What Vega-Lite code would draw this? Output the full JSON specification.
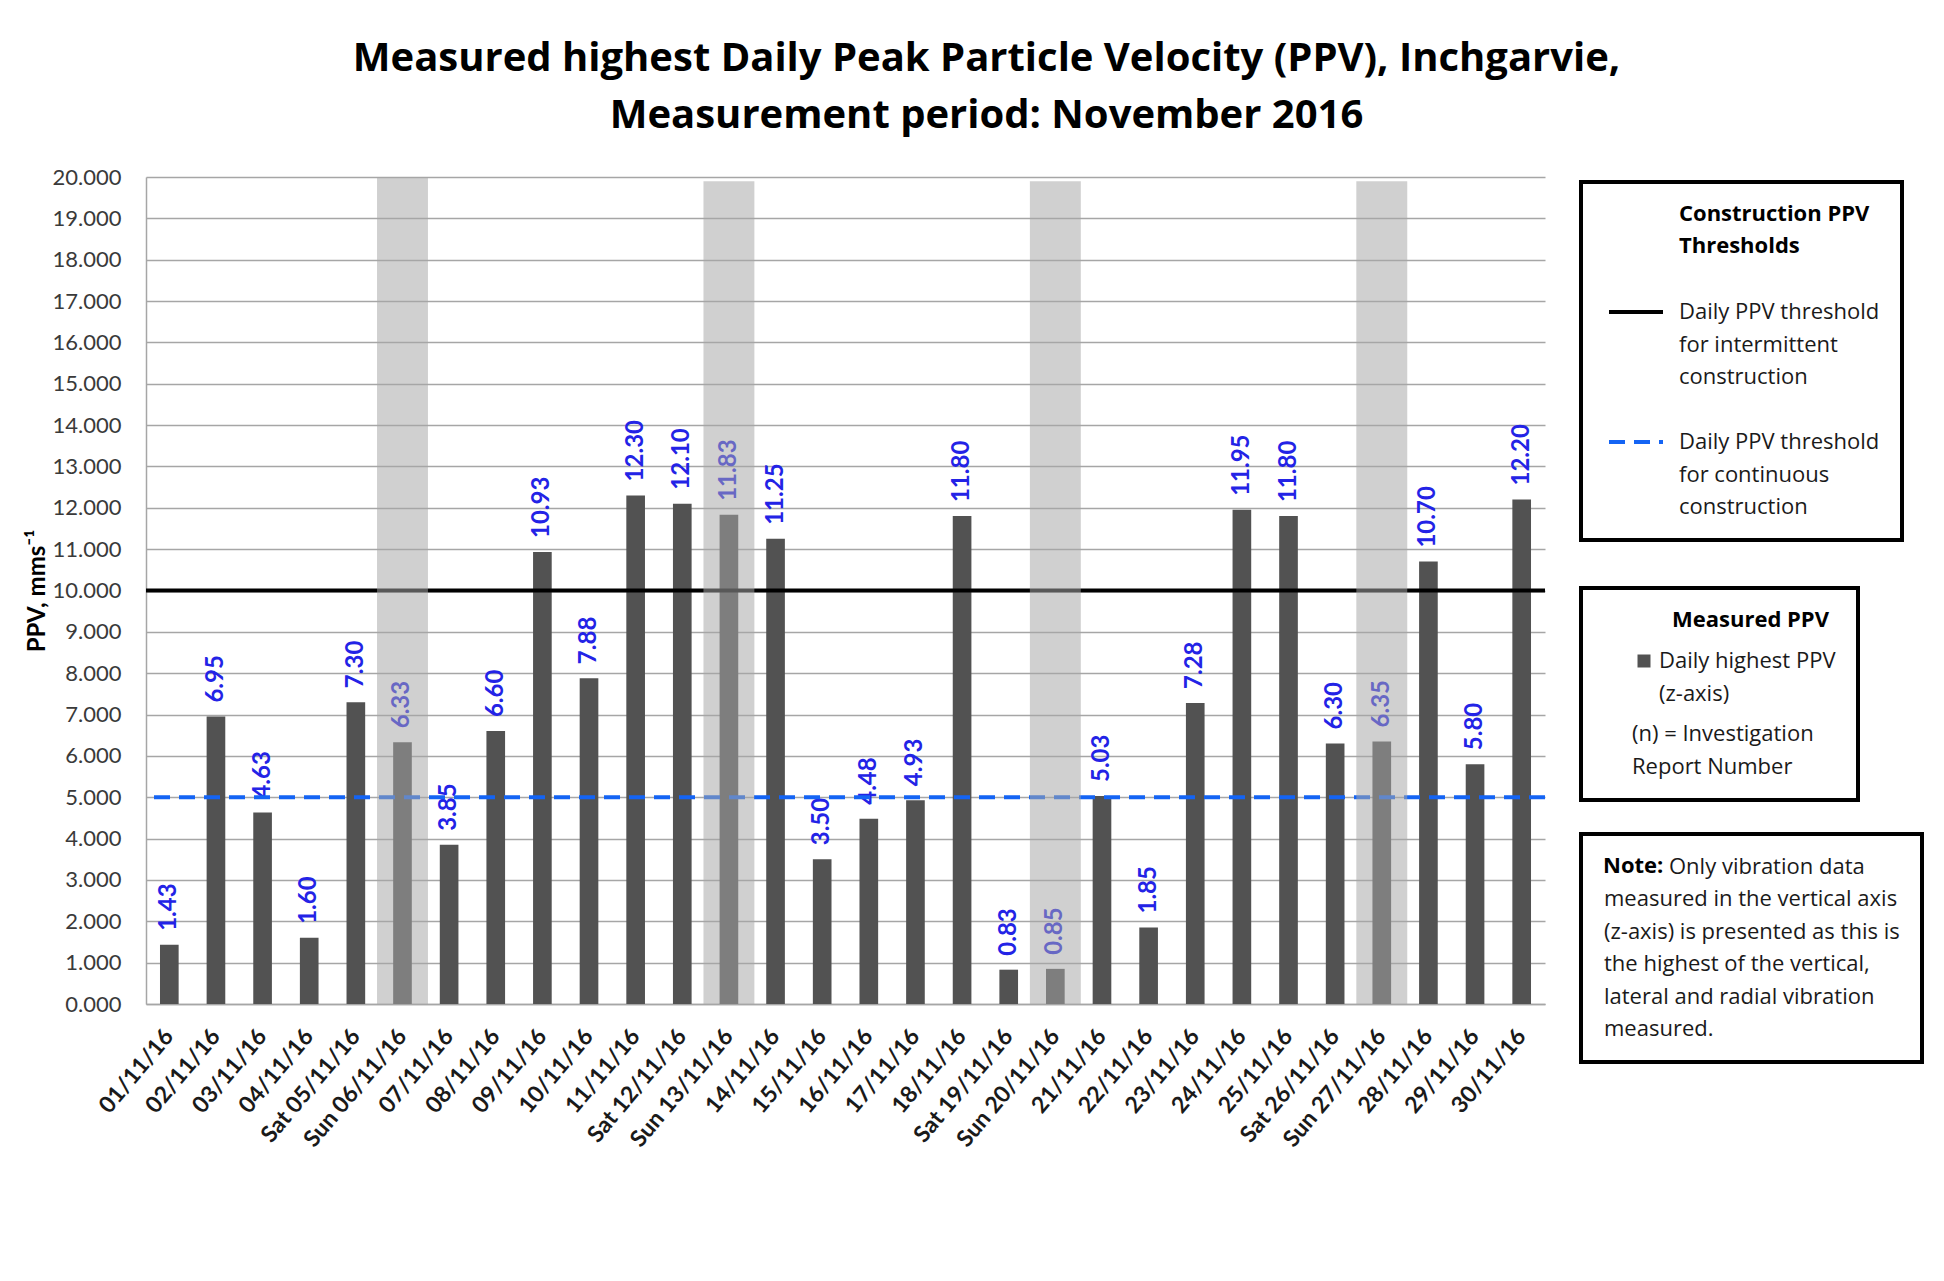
{
  "$schema": "https://vega.github.io/schema/vega-lite/v6.json",
  "width": 1399,
  "height": 827,
  "autosize": {"type": "none"},
  "padding": {"left": 146, "top": 177, "right": 399, "bottom": 277},
  "background": "white",
  "title": {
    "text": ["Measured highest Daily Peak Particle Velocity (PPV), Inchgarvie,", "Measurement period: November 2016"],
    "font": "Open Sans", "fontSize": 40, "fontWeight": "bold", "color": "#000000",
    "anchor": "middle", "dx": 141, "offset": 30, "lineHeight": 57
  },
  "config": {
    "view": {"stroke": null},
    "style": {"guide-label": {"lineHeight": 32.5}},
    "legend": {
      "labelFont": "Open Sans", "labelFontSize": 22, "labelColor": "#1a1a1a",
      "titleFont": "Open Sans", "titleFontSize": 22, "titleFontWeight": "bold", "titleColor": "#000000", "titleLineHeight": 32,
      "strokeColor": "#000000", "padding": 22, "labelLimit": 600, "titleLimit": 600
    }
  },
  "data": {
    "values": [
      {"date": "01/11/16", "ppv": 1.43},
      {"date": "02/11/16", "ppv": 6.95},
      {"date": "03/11/16", "ppv": 4.63},
      {"date": "04/11/16", "ppv": 1.60},
      {"date": "Sat 05/11/16", "ppv": 7.30},
      {"date": "Sun 06/11/16", "ppv": 6.33, "shade": 20},
      {"date": "07/11/16", "ppv": 3.85},
      {"date": "08/11/16", "ppv": 6.60},
      {"date": "09/11/16", "ppv": 10.93},
      {"date": "10/11/16", "ppv": 7.88},
      {"date": "11/11/16", "ppv": 12.30},
      {"date": "Sat 12/11/16", "ppv": 12.10},
      {"date": "Sun 13/11/16", "ppv": 11.83, "shade": 19.9},
      {"date": "14/11/16", "ppv": 11.25},
      {"date": "15/11/16", "ppv": 3.50},
      {"date": "16/11/16", "ppv": 4.48},
      {"date": "17/11/16", "ppv": 4.93},
      {"date": "18/11/16", "ppv": 11.80},
      {"date": "Sat 19/11/16", "ppv": 0.83},
      {"date": "Sun 20/11/16", "ppv": 0.85, "shade": 19.9},
      {"date": "21/11/16", "ppv": 5.03},
      {"date": "22/11/16", "ppv": 1.85},
      {"date": "23/11/16", "ppv": 7.28},
      {"date": "24/11/16", "ppv": 11.95},
      {"date": "25/11/16", "ppv": 11.80},
      {"date": "Sat 26/11/16", "ppv": 6.30},
      {"date": "Sun 27/11/16", "ppv": 6.35, "shade": 19.9},
      {"date": "28/11/16", "ppv": 10.70},
      {"date": "29/11/16", "ppv": 5.80},
      {"date": "30/11/16", "ppv": 12.20}
    ]
  },
  "layer": [
    {
      "mark": {"type": "bar"},
      "encoding": {
        "x": {
          "field": "date", "type": "nominal", "sort": null,
          "scale": {"paddingInner": 0.6, "paddingOuter": 0.3},
          "axis": {
            "title": null, "labelAngle": -50, "labelAlign": "right", "labelBaseline": "middle",
            "labelFont": "Lato", "labelFontSize": 23, "labelFontWeight": "bold", "labelColor": "#1a1a1a",
            "labelPadding": 28, "ticks": false, "domainColor": "#a6a6a6", "domainWidth": 1.5, "labelLimit": 300
          }
        },
        "y": {
          "field": "ppv", "type": "quantitative",
          "scale": {"domain": [0, 20], "nice": false},
          "axis": {
            "title": "PPV, mms⁻¹",
            "values": [0, 1, 2, 3, 4, 5, 6, 7, 8, 9, 10, 11, 12, 13, 14, 15, 16, 17, 18, 19, 20],
            "format": ".3f", "grid": true, "gridColor": "#a6a6a6", "gridWidth": 1.3,
            "domainColor": "#a6a6a6", "domainWidth": 1.5, "ticks": false, "labelPadding": 25,
            "labelFont": "Lato", "labelFontSize": 22, "labelColor": "#3a3a3a",
            "titleFont": "Lato", "titleFontSize": 24, "titleFontWeight": "bold", "titleColor": "#000000", "titlePadding": 3
          }
        },
        "fill": {
          "datum": "Daily highest PPV (z-axis)",
          "scale": {"domain": ["Daily highest PPV (z-axis)", "(n) = Investigation Report Number"], "range": ["#525252", "transparent"]},
          "legend": {
            "orient": "none", "legendX": 1435, "legendY": 411,
            "title": "Measured PPV",
            "symbolType": "square", "symbolSize": 169, "symbolOffset": 30, "symbolStrokeWidth": 0,
            "labelOffset": 4, "rowPadding": 18, "titlePadding": 18,
            "labelExpr": "datum.label == 'Daily highest PPV (z-axis)' ? ['Daily highest PPV', '(z-axis)'] : ['(n) = Investigation', 'Report Number']",
            "encoding": {
              "legend": {"strokeWidth": {"value": 4}},
              "title": {"dx": {"value": 69}},
              "labels": {"lineHeight": {"value": 32.5}, "dx": {"value": {"expr": "datum.index == 1 ? -27 : 0"}}}
            }
          }
        }
      }
    },
    {
      "mark": {"type": "text", "angle": -90, "align": "left", "baseline": "middle", "dx": 14, "font": "Lato", "fontSize": 24, "fontWeight": "bold"},
      "encoding": {
        "x": {"field": "date", "type": "nominal", "sort": null},
        "y": {"field": "ppv", "type": "quantitative"},
        "text": {"field": "ppv", "type": "quantitative", "format": ".2f"},
        "color": {
          "datum": "note1",
          "scale": {"domain": ["note1", "note2"], "range": ["#2323e6", "#2323e6"]},
          "legend": {
            "orient": "none", "legendX": 1435, "legendY": 657,
            "title": "Note:", "titleOrient": "left", "titleAnchor": "start", "titleBaseline": "top", "titlePadding": 4,
            "symbolSize": 0, "symbolOpacity": 0, "symbolOffset": 0, "labelOffset": -21, "rowPadding": 10,
            "labelColor": "#1a1a1a",
            "labelExpr": "datum.index == 0 ? 'Only vibration data' : ['measured in the vertical axis', '(z-axis) is presented as this is', 'the highest of the vertical,', 'lateral and radial vibration', 'measured.']",
            "encoding": {
              "legend": {"strokeWidth": {"value": 4}},
              "labels": {"lineHeight": {"value": 32.5}, "dx": {"value": {"expr": "datum.index == 1 ? -65 : 0"}}}
            }
          }
        }
      }
    },
    {
      "data": {
        "values": [
          {"threshold": "Daily PPV threshold for intermittent construction", "value": 10},
          {"threshold": "Daily PPV threshold for continuous construction", "value": 5}
        ]
      },
      "mark": {"type": "rule", "strokeWidth": 4},
      "encoding": {
        "y": {"field": "value", "type": "quantitative"},
        "stroke": {
          "field": "threshold", "type": "nominal",
          "scale": {"domain": ["Daily PPV threshold for intermittent construction", "Daily PPV threshold for continuous construction"], "range": ["#000000", "#1464f4"]},
          "legend": {
            "orient": "none", "legendX": 1435, "legendY": 5,
            "title": ["Construction PPV", "Thresholds"],
            "symbolType": "stroke", "symbolSize": 2916, "symbolStrokeWidth": 4, "symbolOffset": 4,
            "labelOffset": 14, "rowPadding": 25, "titlePadding": 25,
            "labelExpr": "datum.label == 'Daily PPV threshold for intermittent construction' ? ['Daily PPV threshold', 'for intermittent', 'construction'] : ['Daily PPV threshold', 'for continuous', 'construction']",
            "encoding": {
              "legend": {"strokeWidth": {"value": 4}},
              "title": {"dx": {"value": 76}},
              "labels": {"lineHeight": {"value": 32.5}}
            }
          }
        },
        "strokeDash": {
          "field": "threshold", "type": "nominal",
          "scale": {"domain": ["Daily PPV threshold for intermittent construction", "Daily PPV threshold for continuous construction"], "range": [[1, 0], [16, 9]]},
          "legend": {
            "orient": "none", "legendX": 1435, "legendY": 5,
            "title": ["Construction PPV", "Thresholds"],
            "symbolType": "stroke", "symbolSize": 2916, "symbolStrokeWidth": 4, "symbolOffset": 4,
            "labelOffset": 14, "rowPadding": 25, "titlePadding": 25,
            "labelExpr": "datum.label == 'Daily PPV threshold for intermittent construction' ? ['Daily PPV threshold', 'for intermittent', 'construction'] : ['Daily PPV threshold', 'for continuous', 'construction']",
            "encoding": {
              "legend": {"strokeWidth": {"value": 4}},
              "title": {"dx": {"value": 76}},
              "labels": {"lineHeight": {"value": 32.5}}
            }
          }
        }
      }
    },
    {
      "transform": [{"filter": "isValid(datum.shade)"}],
      "mark": {"type": "bar", "color": "#a7a7a7", "opacity": 0.53, "width": {"band": 2.73}},
      "encoding": {
        "x": {"field": "date", "type": "nominal", "sort": null},
        "y": {"field": "shade", "type": "quantitative"},
        "y2": {"datum": 0}
      }
    }
  ]
}
